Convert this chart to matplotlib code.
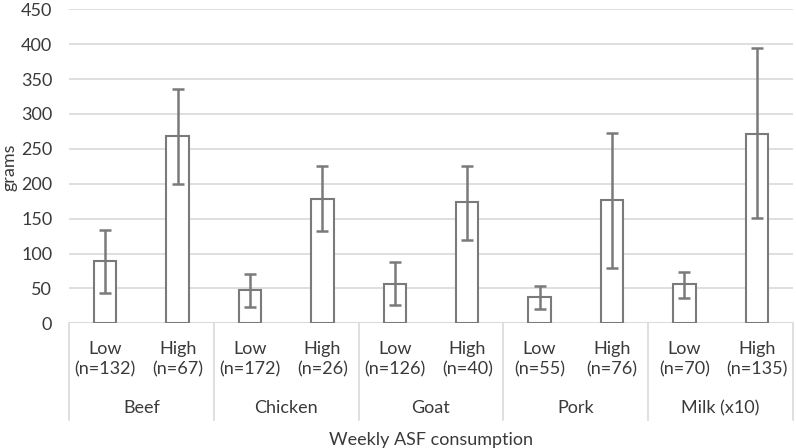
import matplotlib.pyplot as plt
import numpy as np

plt.rcParams['font.family'] = ['Lato', 'DejaVu Sans']

categories = ['Beef', 'Chicken', 'Goat', 'Pork', 'Milk (x10)']
levels = ['Low', 'High']
n_labels = ['(n=132)', '(n=67)', '(n=172)', '(n=26)', '(n=126)', '(n=40)',
            '(n=55)', '(n=76)', '(n=70)', '(n=135)']
means = [89, 269, 48, 178, 57, 174, 38, 177, 56, 272]
ci_low = [44, 200, 23, 132, 26, 120, 21, 79, 36, 151]
ci_high = [133, 336, 71, 225, 88, 225, 54, 273, 74, 394]

text_col = '#3a3a3a'
bar_col = '#7a7a7a'
grid_col = '#d9d9d9'
fs = 13

W, H = 796, 448
fig = plt.figure(figsize=(W / 100, H / 100), dpi=100)
x0, x1, y0, y1 = 69, 793, 323.3, 9.3
ax = fig.add_axes([x0 / W, 1 - y0 / H, (x1 - x0) / W, (y0 - y1) / H])

x = np.arange(len(means))
means_a = np.array(means)
yerr = [means_a - np.array(ci_low), np.array(ci_high) - means_a]
ax.bar(x, means, width=0.31, facecolor='white', edgecolor=bar_col, linewidth=1.5, zorder=3)
ax.errorbar(x, means, yerr=yerr, fmt='none', ecolor=bar_col, elinewidth=1.8,
            capsize=4, capthick=1.8, zorder=4)

ax.set_xlim(-0.5, len(means) - 0.5)
ax.set_ylim(0, 450)
ax.set_yticks(range(0, 451, 50))
ax.tick_params(axis='y', length=0, labelsize=fs, labelcolor=text_col, pad=12)
ax.set_xticks([])
ax.grid(axis='y', color=grid_col, linewidth=1.2, zorder=0)
for s in ax.spines.values():
    s.set_visible(False)
ax.axhline(0, color=grid_col, linewidth=1.2, zorder=2)

fig.text(10 / W, 1 - 167 / H, 'grams', rotation=90, ha='center', va='center',
         fontsize=fs, color=text_col)

# category axis with group separators
trans = ax.get_xaxis_transform()
sep_bottom = (y0 - 420) / (y0 - y1)
for g in range(len(categories) + 1):
    xs = -0.5 + 2 * g
    ax.plot([xs, xs], [0, sep_bottom], transform=trans, color=grid_col,
            linewidth=1.2, clip_on=False)

def yfrac(py):
    return (y0 - py) / (y0 - y1)

for i in x:
    ax.text(i, yfrac(349), levels[i % 2], transform=trans, ha='center', va='center',
            fontsize=fs, color=text_col)
    ax.text(i, yfrac(369), n_labels[i], transform=trans, ha='center', va='center',
            fontsize=fs, color=text_col)
for g, cat in enumerate(categories):
    ax.text(2 * g + 0.5, yfrac(408), cat, transform=trans, ha='center', va='center',
            fontsize=fs, color=text_col)

fig.text((x0 + x1) / 2 / W, 1 - 440 / H, 'Weekly ASF consumption', ha='center',
         va='center', fontsize=fs, color=text_col)

fig.savefig('out.png', dpi=100)
